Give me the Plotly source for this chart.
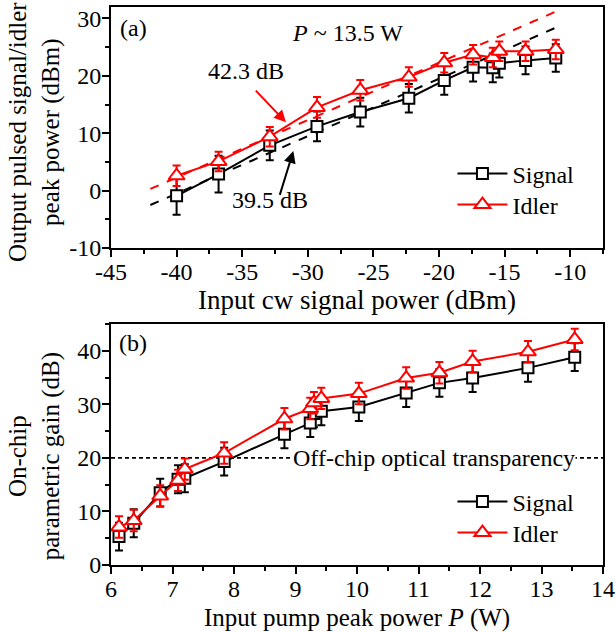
import plotly.graph_objects as go

# ---------------- data ----------------
# Panel (a): output power vs input cw signal power
pin_a = [-40.0, -36.8, -32.9, -29.3, -26.0, -22.3, -19.6, -17.4, -15.9, -15.4, -13.4, -11.1]
sig_a = [-0.9, 2.9, 7.9, 11.2, 13.7, 16.1, 19.2, 21.5, 21.4, 22.2, 22.7, 23.1]
sig_a_err = [3.3, 3.2, 2.6, 2.6, 2.5, 2.5, 2.5, 2.5, 2.5, 2.5, 2.4, 2.4]
idl_a = [2.6, 5.1, 9.4, 14.5, 17.5, 19.8, 22.3, 23.7, 23.2, 24.3, 24.3, 24.6]
idl_a_err = [1.8, 1.7, 1.7, 1.8, 1.8, 1.7, 1.7, 1.7, 1.7, 1.7, 1.7, 1.7]

# Linear (small-signal) gain fits: y = x + gain
gain_signal = 39.5
gain_idler = 42.3
fit_x = [-42.0, -11.0]

# Panel (b): on-chip parametric gain vs pump peak power
pump = [6.13, 6.37, 6.80, 7.09, 7.20, 7.84, 8.82, 9.24, 9.30, 9.42, 10.03, 10.80, 11.34, 11.88, 12.78, 13.54]
sig_b = [5.3, 7.8, 13.5, 16.0, 16.2, 19.3, 24.4, 26.5, 28.3, 28.7, 29.5, 32.1, 34.0, 34.9, 36.8, 38.8]
sig_b_err = [2.6] * len(pump)
idl_b = [7.1, 8.3, 12.9, 15.8, 17.9, 20.9, 27.3, 29.2, 30.3, 31.1, 32.0, 34.9, 35.9, 38.0, 39.8, 42.1]
idl_b_err = [2.0] * len(pump)

transparency = 20

xticks_a = [-45, -40, -35, -30, -25, -20, -15, -10]
yticks_a = [-10, 0, 10, 20, 30]
xticks_b = [6, 7, 8, 9, 10, 11, 12, 13, 14]
yticks_b = [0, 10, 20, 30, 40]

# ---------------- styling ----------------
FONT = "Liberation Serif, Times New Roman, serif"
BLACK = "#000000"
RED = "#ff0000"

fig = go.Figure()


def series(x, y, err, name, color, symbol, size, xa, ya, legend):
    return go.Scatter(
        x=x, y=y, name=name, mode="lines+markers",
        xaxis=xa, yaxis=ya, legend=legend, showlegend=True,
        line=dict(color=color, width=2),
        marker=dict(symbol=symbol, size=size, color="white",
                    line=dict(color=color, width=2)),
        error_y=dict(type="data", array=err, color=color, thickness=2, width=4),
    )


# fit lines (a)
fig.add_trace(go.Scatter(x=fit_x, y=[v + gain_signal for v in fit_x], mode="lines",
                         line=dict(color=BLACK, width=2, dash="dash"),
                         xaxis="x", yaxis="y", showlegend=False, hoverinfo="skip"))
fig.add_trace(go.Scatter(x=fit_x, y=[v + gain_idler for v in fit_x], mode="lines",
                         line=dict(color=RED, width=2, dash="dash"),
                         xaxis="x", yaxis="y", showlegend=False, hoverinfo="skip"))

fig.add_trace(series(pin_a, sig_a, sig_a_err, "Signal", BLACK, "square", 11, "x", "y", "legend"))
fig.add_trace(series(pin_a, idl_a, idl_a_err, "Idler", RED, "triangle-up", 14, "x", "y", "legend2"))
fig.add_trace(series(pump, sig_b, sig_b_err, "Signal", BLACK, "square", 11, "x2", "y2", "legend3"))
fig.add_trace(series(pump, idl_b, idl_b_err, "Idler", RED, "triangle-up", 14, "x2", "y2", "legend4"))

TICKFONT = dict(family=FONT, size=24, color=BLACK)
axis_common = dict(
    showline=True, linewidth=2, linecolor=BLACK, mirror=True,
    ticks="outside", ticklen=7, tickwidth=2, tickcolor=BLACK,
    showgrid=False, zeroline=False, automargin=False,
    tickfont=TICKFONT,
)
minor_common = dict(ticks="outside", ticklen=4, tickwidth=2, tickcolor=BLACK)

# transparency line (b)
fig.add_shape(type="line", xref="x2 domain", yref="y2", x0=0, x1=1,
              y0=transparency, y1=transparency,
              line=dict(color=BLACK, width=1.6, dash="4px,3px"), layer="below")

ann = []
tf = dict(family=FONT, size=24, color=BLACK)
ann.append(dict(x=-43.3, y=28.4, xref="x", yref="y", text="(a)", showarrow=False, font=tf))
ann.append(dict(x=-27.0, y=27.5, xref="x", yref="y", text="<i>P</i> ~ 13.5 W", showarrow=False, font=tf))
ann.append(dict(x=-34.7, y=20.8, xref="x", yref="y", text="42.3 dB", showarrow=False, font=tf))
ann.append(dict(x=-32.9, y=-1.6, xref="x", yref="y", text="39.5 dB", showarrow=False, font=tf))
ann.append(dict(x=-31.66, y=11.9, ax=-34.07, ay=17.7, xref="x", yref="y", axref="x", ayref="y",
                text="", showarrow=True, arrowhead=2, arrowsize=1.2, arrowwidth=2, arrowcolor=RED))
ann.append(dict(x=-31.1, y=6.9, ax=-32.17, ay=-1.0, xref="x", yref="y", axref="x", ayref="y",
                text="", showarrow=True, arrowhead=2, arrowsize=1.2, arrowwidth=2, arrowcolor=BLACK))
ann.append(dict(x=6.36, y=41.4, xref="x2", yref="y2", text="(b)", showarrow=False, font=tf))
ann.append(dict(x=11.25, y=transparency, xref="x2", yref="y2", text="Off-chip optical transparency",
                showarrow=False, font=tf, bgcolor="white", borderpad=0))
# axis titles
ann.append(dict(x=-0.155, y=0.48, xref="paper", yref="y domain", xanchor="center", yanchor="middle",
                text="Output pulsed signal/idler<br>peak power (dBm)", textangle=-90,
                showarrow=False, font=dict(family=FONT, size=25, color=BLACK)))
ann.append(dict(x=-0.155, y=0.45, xref="paper", yref="y2 domain", xanchor="center", yanchor="middle",
                text="On-chip<br>parametric gain (dB)", textangle=-90,
                showarrow=False, font=dict(family=FONT, size=25, color=BLACK)))
ann.append(dict(x=0.5, y=0, xref="x domain", yref="y domain", xanchor="center", yanchor="middle",
                yshift=-52, text="Input cw signal power (dBm)", showarrow=False,
                font=dict(family=FONT, size=27, color=BLACK)))
ann.append(dict(x=0.5, y=0, xref="x2 domain", yref="y2 domain", xanchor="center", yanchor="middle",
                yshift=-53, text="Input pump peak power <i>P</i> (W)", showarrow=False,
                font=dict(family=FONT, size=25, color=BLACK)))

H0, H1 = 7, 565   # plot-area top / bottom in px
def py(p):
    return (H1 - p) / (H1 - H0)

legend_common = dict(font=dict(family=FONT, size=24, color=BLACK), bgcolor="rgba(0,0,0,0)",
                     xanchor="left", yanchor="middle", itemwidth=50, x=0.694)

fig.update_layout(
    width=616, height=632,
    margin=dict(l=111, r=13, t=7, b=67),
    paper_bgcolor="white", plot_bgcolor="white",
    font=dict(family=FONT, color=BLACK),
    xaxis=dict(axis_common, domain=[0, 1], anchor="y", range=[-45, -7.5],
               tickvals=xticks_a, ticktext=[str(v) for v in xticks_a], ticklabelstandoff=-6,
               minor=dict(minor_common, dtick=2.5, tick0=-45)),
    yaxis=dict(axis_common, domain=[0.568, 1], anchor="x", range=[-10, 32],
               tickvals=yticks_a, ticktext=[str(v) for v in yticks_a], ticklabelstandoff=-4,
               minor=dict(minor_common, dtick=5, tick0=-10)),
    xaxis2=dict(axis_common, domain=[0, 1], anchor="y2", range=[6, 14],
                tickvals=xticks_b, ticktext=[str(v) for v in xticks_b], ticklabelstandoff=-6,
                minor=dict(minor_common, dtick=0.5, tick0=6)),
    yaxis2=dict(axis_common, domain=[0, 0.432], anchor="x2", range=[0, 45],
                tickvals=yticks_b, ticktext=[str(v) for v in yticks_b], ticklabelstandoff=-4,
                minor=dict(minor_common, dtick=5, tick0=0)),
    legend=dict(legend_common, y=py(174)),
    legend2=dict(legend_common, y=py(205)),
    legend3=dict(legend_common, y=py(502)),
    legend4=dict(legend_common, y=py(533)),
    annotations=ann,
)

fig.write_html("out.html", config={"displayModeBar": False},
               post_script="document.body.style.margin='0';")
